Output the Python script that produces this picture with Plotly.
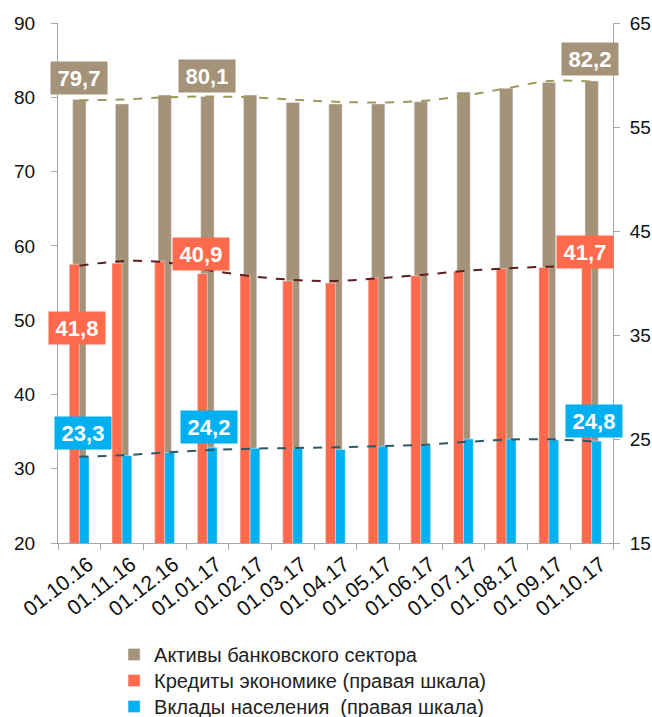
import plotly.graph_objects as go

dates = ["01.10.16", "01.11.16", "01.12.16", "01.01.17", "01.02.17", "01.03.17",
         "01.04.17", "01.05.17", "01.06.17", "01.07.17", "01.08.17", "01.09.17", "01.10.17"]
assets = [79.7, 79.1, 80.3, 80.1, 80.3, 79.3, 79.1, 79.1, 79.4, 80.7, 81.2, 82.0, 82.2]
credits = [41.8, 41.9, 42.1, 40.9, 40.7, 40.2, 40.0, 40.5, 40.7, 41.1, 41.4, 41.5, 41.7]
deposits = [23.3, 23.4, 23.7, 24.2, 24.1, 24.1, 24.0, 24.3, 24.4, 25.0, 25.0, 24.9, 24.8]
# trend lines
assets_trend = [79.6, 79.7, 80.0, 80.1, 80.0, 79.7, 79.4, 79.3, 79.5, 80.2, 81.2, 82.2, 82.1]
credits_trend = [41.66, 42.1, 42.0, 41.25, 40.67, 40.3, 40.2, 40.45, 40.77, 41.15, 41.4, 41.57, 41.63]
deposits_trend = [23.3, 23.43, 23.7, 23.93, 24.07, 24.13, 24.2, 24.3, 24.43, 24.7, 24.93, 24.97, 24.77]

names = ["Активы банковского сектора", "Кредиты экономике (правая шкала)", "Вклады населения  (правая шкала)"]
label_idx = [0, 3, 12]

C_GRAY = "#a49379"
C_RED = "#ff6a4d"
C_BLUE = "#00b0f0"
FONT = "Liberation Sans, Arial, sans-serif"

fig = go.Figure()
fig.add_trace(go.Bar(x=dates, y=assets, name=names[0], marker_color=C_GRAY,
                     width=0.312, offset=-0.156, yaxis="y", legend="legend"))
fig.add_trace(go.Scatter(x=dates, y=assets_trend, mode="lines", yaxis="y", showlegend=False,
                         line=dict(color="#9e9a5c", width=2, dash="dash", shape="spline"),
                         hoverinfo="skip"))
fig.add_trace(go.Bar(x=dates, y=credits, name=names[1], marker_color=C_RED,
                     width=0.235, offset=-0.235, yaxis="y2", legend="legend2"))
fig.add_trace(go.Bar(x=dates, y=deposits, name=names[2], marker_color=C_BLUE,
                     width=0.228, offset=0.0, yaxis="y2", legend="legend3"))
fig.add_trace(go.Scatter(x=dates, y=credits_trend, mode="lines", yaxis="y2", showlegend=False,
                         line=dict(color="#5e1f1f", width=2, dash="dash", shape="spline"),
                         hoverinfo="skip"))
fig.add_trace(go.Scatter(x=dates, y=deposits_trend, mode="lines", yaxis="y2", showlegend=False,
                         line=dict(color="#2d5866", width=2, dash="dash", shape="spline"),
                         hoverinfo="skip"))

def fmt(v):
    return f"{v:.1f}".replace(".", ",")

annotations = []
gray_shift = [(0, 22), (0, 21), (-2, 22)]
red_shift = [(-2, -64), (-6, 20), (-7, 13)]
blue_shift = [(4, 24), (2, 20), (2, 20)]
for series, yref, color, shifts in [(assets, "y", C_GRAY, gray_shift),
                                    (credits, "y2", C_RED, red_shift),
                                    (deposits, "y2", C_BLUE, blue_shift)]:
    for i, (dx, dy) in zip(label_idx, shifts):
        annotations.append(dict(
            x=dates[i], y=series[i], xref="x", yref=yref, text=fmt(series[i]),
            showarrow=False, xanchor="center", yanchor="middle", xshift=dx, yshift=dy,
            bgcolor=color, borderpad=2, width=52, height=28,
            font=dict(family=FONT, size=22, color="white", weight="bold")))

axis_font = dict(family=FONT, size=19, color="#111111")
xaxis_font = dict(family=FONT, size=21, color="#111111")

def legend_box(ypos):
    return dict(orientation="v", x=0.101, xanchor="left", y=ypos, yanchor="top",
                font=dict(family=FONT, size=20, color="#222222"),
                bgcolor="rgba(0,0,0,0)", itemwidth=30)

fig.update_layout(
    width=652, height=717,
    margin=dict(l=58, r=39, t=23, b=174, autoexpand=False),
    paper_bgcolor="white", plot_bgcolor="white",
    barmode="overlay",
    showlegend=True,
    legend=legend_box(-0.1769),
    legend2=legend_box(-0.2269),
    legend3=legend_box(-0.2769),
    xaxis=dict(type="category", range=[-0.5, 12.5], tickangle=-38, tickfont=xaxis_font,
               showline=True, linecolor="#a6a6a6", linewidth=1, ticks="outside", ticklen=6,
               tickcolor="#a6a6a6", tickson="boundaries", showgrid=False, zeroline=False,
               automargin=False, ticklabelshift=9),
    yaxis=dict(range=[20, 90], dtick=10, tickfont=axis_font, showline=True, linecolor="#a6a6a6",
               linewidth=1, ticks="outside", ticklen=6, tickcolor="#a6a6a6", showgrid=False,
               zeroline=False, ticklabelstandoff=12, automargin=False),
    yaxis2=dict(range=[15, 65], tick0=15, dtick=10, tickfont=axis_font, overlaying="y", side="right",
                showline=True, linecolor="#a6a6a6", linewidth=1, ticks="outside", ticklen=6,
                tickcolor="#a6a6a6", showgrid=False, zeroline=False, ticklabelstandoff=6,
                automargin=False),
    annotations=annotations,
)

fig.write_html("out.html", config={"displayModeBar": False},
               post_script="document.body.style.margin='0px';document.body.style.overflow='hidden';")
